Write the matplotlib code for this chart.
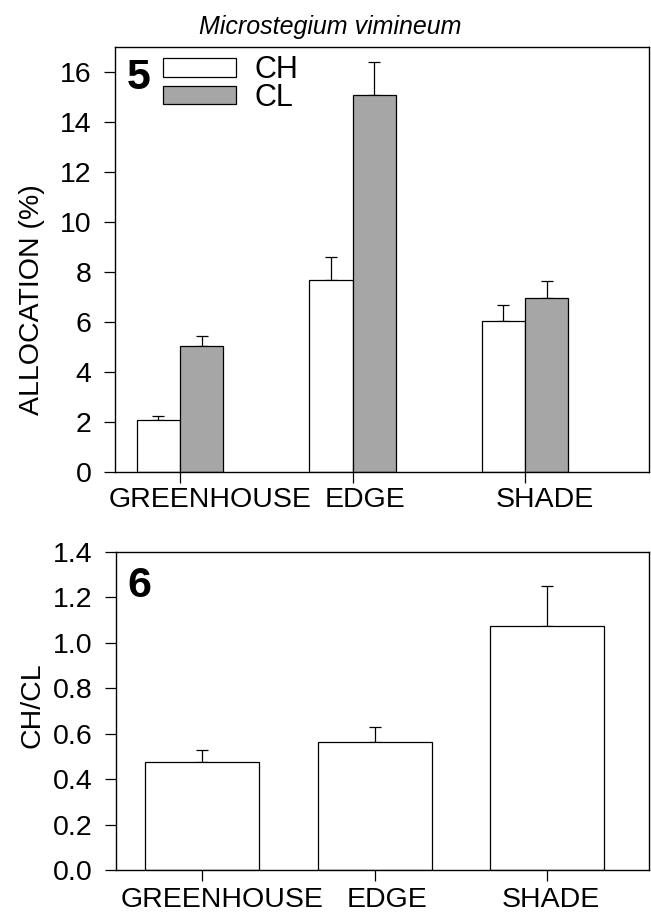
import numpy as np
import matplotlib
matplotlib.use("Agg")
import matplotlib.pyplot as plt
from matplotlib.transforms import blended_transform_factory

plt.rcParams['font.family'] = ['Liberation Sans', 'DejaVu Sans']

# Data
sites = ['GREENHOUSE', 'EDGE', 'SHADE']
ch_alloc = [2.1, 7.7, 6.05]
ch_alloc_se = [0.15, 0.9, 0.65]
cl_alloc = [5.05, 15.1, 6.95]
cl_alloc_se = [0.4, 1.3, 0.7]
ratio = [0.475, 0.565, 1.075]
ratio_se = [0.055, 0.065, 0.175]
alloc_ticks = [0, 2, 4, 6, 8, 10, 12, 14, 16]
ratio_ticks = [0.0, 0.2, 0.4, 0.6, 0.8, 1.0, 1.2, 1.4]

GRAY = '#a6a6a6'
LW = 0.9
FS = 20.5

fig = plt.figure(figsize=(6.51, 9.17), dpi=100)

x = np.arange(1, len(sites) + 1)


def style_axes(ax):
    for sp in ax.spines.values():
        sp.set_linewidth(1.0)
    ax.tick_params(axis='both', direction='out', length=8, width=0.9,
                   labelsize=FS, pad=9)
    ax.tick_params(axis='x', labelbottom=False)


def site_labels(ax, xs, ypos):
    trans = blended_transform_factory(ax.transData, ax.transAxes)
    for xi, lab in zip(xs, sites):
        ax.text(xi, ypos, lab, transform=trans, ha='center', va='top',
                fontsize=FS)


# ---- Panel 5: allocation ----
ax1 = fig.add_axes([115 / 651, 1 - 472 / 917, 534 / 651, 425 / 917])
w = 0.25
ax1.bar(x - w / 2, ch_alloc, w, color='white', edgecolor='black',
        linewidth=LW, label='CH', zorder=2)
ax1.bar(x + w / 2, cl_alloc, w, color=GRAY, edgecolor='black',
        linewidth=LW, label='CL', zorder=2)
ax1.errorbar(x - w / 2, ch_alloc, yerr=[np.zeros(3), ch_alloc_se], fmt='none',
             ecolor='black', elinewidth=LW, capsize=4, capthick=LW, zorder=1)
ax1.errorbar(x + w / 2, cl_alloc, yerr=[np.zeros(3), cl_alloc_se], fmt='none',
             ecolor='black', elinewidth=LW, capsize=4, capthick=LW, zorder=1)
ax1.set_xlim(0.623, 3.719)
ax1.set_ylim(0, 17)
ax1.set_yticks(alloc_ticks)
ax1.set_xticks(x)
style_axes(ax1)
site_labels(ax1, x + np.array([0.174, 0.07, 0.116]), -0.035)
ax1.set_ylabel('ALLOCATION (%)', fontsize=FS)
ax1.yaxis.set_label_coords(-0.131, 0.405)
ax1.text(0.022, 0.975, '5', transform=ax1.transAxes, fontsize=31,
         fontweight='bold', ha='left', va='top')
ax1.legend(loc='upper left', bbox_to_anchor=(0.09, 0.98), frameon=False,
           fontsize=22, handlelength=2.4, handleheight=0.55,
           handletextpad=0.6, labelspacing=-0.08, borderpad=0,
           borderaxespad=0)

# ---- Panel 6: CH/CL ratio ----
ax2 = fig.add_axes([116 / 651, 1 - 870 / 917, 533 / 651, 318 / 917])
ax2.bar(x, ratio, 0.66, color='white', edgecolor='black', linewidth=LW,
        zorder=2)
ax2.errorbar(x, ratio, yerr=[np.zeros(3), ratio_se], fmt='none',
             ecolor='black', elinewidth=LW, capsize=4.5, capthick=LW, zorder=1)
ax2.set_xlim(0.50, 3.59)
ax2.set_ylim(0, 1.4)
ax2.set_yticks(ratio_ticks)
ax2.set_yticklabels([f'{t:.1f}' for t in ratio_ticks])
ax2.set_xticks(x)
style_axes(ax2)
site_labels(ax2, x + np.array([0.116, 0.07, 0.023]), -0.053)
ax2.set_ylabel('CH/CL', fontsize=FS)
ax2.yaxis.set_label_coords(-0.133, 0.519)
ax2.text(0.021, 0.955, '6', transform=ax2.transAxes, fontsize=31,
         fontweight='bold', ha='left', va='top')

fig.text(0.508, 0.971, 'Microstegium vimineum', fontsize=18, style='italic',
         ha='center', va='center')

fig.savefig('out.png', dpi=100)
